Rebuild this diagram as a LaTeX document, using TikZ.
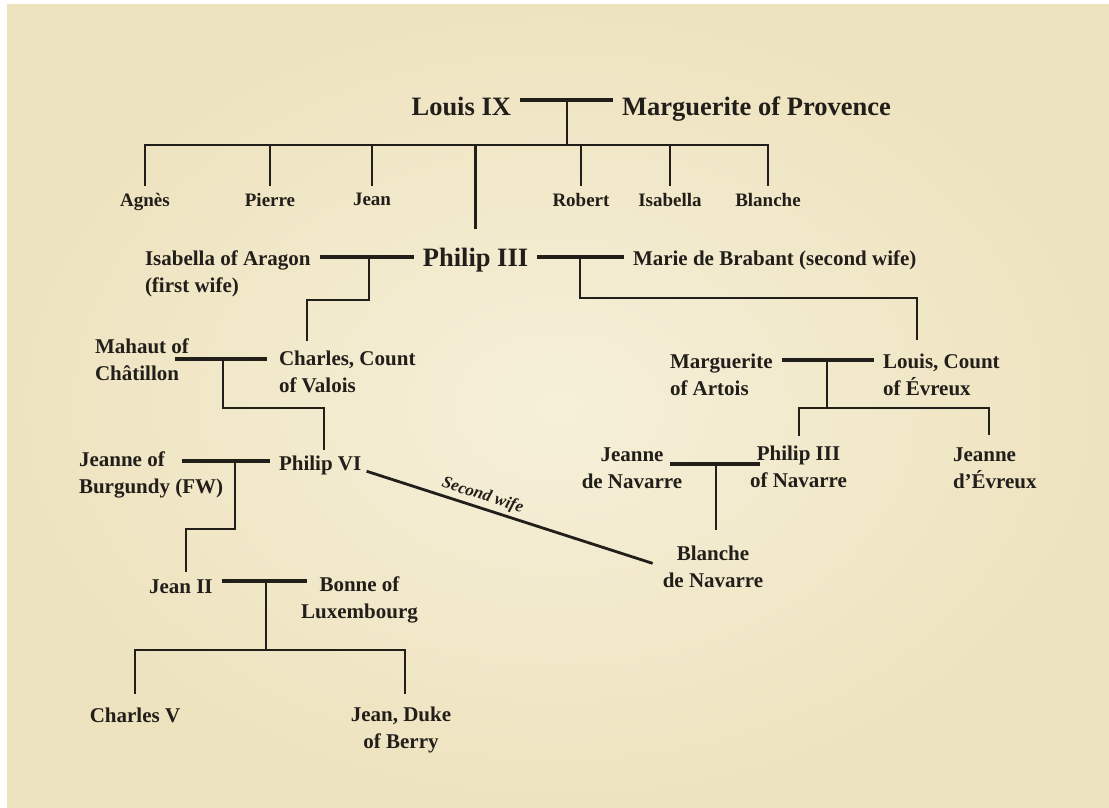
\documentclass[tikz,border=0pt]{standalone}
\usepackage{fontspec}
\setmainfont{Liberation Serif}
\usetikzlibrary{positioning,calc}
\definecolor{parch}{HTML}{F6F0D9}
\definecolor{parchedge}{HTML}{EEE3BF}
\definecolor{ink}{HTML}{221E19}
\tikzset{
  person/.style={inner sep=0pt, outer sep=0pt, text=ink, font=\bfseries\fontsize{21}{26.5}\selectfont},
  big/.style={person, font=\bfseries\fontsize{26.5}{30}\selectfont},
  kid/.style={person, font=\bfseries\fontsize{19}{22}\selectfont},
  wed/.style={draw=ink, line width=3.3pt, shorten <=9pt, shorten >=9pt},
  descent/.style={draw=ink, line width=2.8pt, line cap=rect},
  note/.style={text=ink, font=\bfseries\itshape\fontsize{17}{20}\selectfont, inner sep=1pt},
}

\begin{document}
\begin{tikzpicture}[x=1pt, y=-1pt]
  \useasboundingbox (0,0) rectangle (1109,808);
  \fill[white] (0,0) rectangle (1109,808);
  \shade[inner color=parch, outer color=parchedge] (7,5) rectangle (1109,808);
  % Louis IX and his children
  \node[big, anchor=north east] (louis) at (511,97) {Louis IX};
  \node[big, anchor=north west] (marg) at (622,97) {Marguerite of Provence};
  \node[kid, anchor=north] (agnes) at (145,193) {Agnès};
  \node[kid, anchor=north] (pierre) at (270,193) {Pierre};
  \node[kid, anchor=north] (jean) at (372,193) {Jean};
  \node[kid, anchor=north] (robert) at (581,193) {Robert};
  \node[kid, anchor=north] (isabella) at (670,193) {Isabella};
  \node[kid, anchor=north] (blanche1) at (768,193) {Blanche};
  % Philip III and his wives
  \node[big, anchor=north] (philip) at (475.5,248) {Philip III};
  \node[person, anchor=north west, align=left] (aragon) at (145,251) {Isabella of Aragon\\(first wife)};
  \node[person, anchor=north west] (marie) at (633,251) {Marie de Brabant (second wife)};
  \node[person, anchor=north west, align=left] (mahaut) at (95,339) {Mahaut of\\Châtillon};
  \node[person, anchor=north west, align=left] (charles) at (279,351) {Charles, Count\\of Valois};
  \node[person, anchor=north west, align=left] (artois) at (670,354) {Marguerite\\of Artois};
  \node[person, anchor=north west, align=left] (evreux) at (883,354) {Louis, Count\\of Évreux};
  \node[person, anchor=north west, align=left] (burgundy) at (79,452) {Jeanne of\\Burgundy (FW)};
  \node[person, anchor=north west] (pvi) at (279,456) {Philip VI};
  \node[person, anchor=north, align=center] (jnav) at (632,448) {Jeanne\\de Navarre};
  \node[person, anchor=north, align=center] (pnav) at (798.5,446) {Philip III\\of Navarre};
  \node[person, anchor=north west, align=left] (jevr) at (953,448) {Jeanne\\d'Évreux};
  \node[person, anchor=north, align=center] (blanche) at (713,546) {Blanche\\de Navarre};
  \node[person, anchor=north west] (jean2) at (149,580) {Jean II};
  \node[person, anchor=north, align=center] (bonne) at (359.5,577) {Bonne of\\Luxembourg};
  \node[person, anchor=north] (charles5) at (135,708) {Charles V};
  \node[person, anchor=north, align=center] (berry) at (401,707) {Jean, Duke\\of Berry};
  % junctions
  \coordinate (m1) at (567,100); \coordinate (kids1) at (567,145);
  \coordinate (m2) at (369,257); \coordinate (c2) at (307,300);
  \coordinate (m3) at (580,257); \coordinate (c3) at (917,298);
  \coordinate (m4) at (223,359); \coordinate (c4) at (324,408);
  \coordinate (m5) at (827,360); \coordinate (k5) at (827,408);
  \coordinate (k5l) at (799,408); \coordinate (k5r) at (989,408);
  \coordinate (m6) at (716,464);
  \coordinate (m7) at (235,461); \coordinate (c7) at (186,529);
  \coordinate (m8) at (266,581); \coordinate (k8) at (266,650); \coordinate (k8r) at (405,650);
  % marriages and descent
  \draw[wed] (louis.east |- m1) -- (marg.west |- m1);
  \draw[descent] (m1) -- (kids1);
  \draw[descent] (agnes |- kids1) -- (blanche1 |- kids1);
  \foreach \k in {agnes,pierre,jean,robert,isabella,blanche1}
    \draw[descent, shorten >=8pt] (\k |- kids1) -- (\k.north);
  \draw[descent, shorten >=20pt] (philip |- kids1) -- (philip.north);
  \draw[wed] (aragon.east |- m2) -- (philip.west |- m2);
  \draw[descent, shorten >=11pt] (m2) |- (c2) -- (c2 |- charles.north);
  \draw[wed] (philip.east |- m3) -- (marie.west |- m3);
  \draw[descent, shorten >=15pt] (m3) |- (c3) -- (c3 |- evreux.north);
  \draw[wed, shorten <=-14pt, shorten >=12pt] (mahaut.east |- m4) -- (charles.west |- m4);
  \draw[descent, shorten >=7pt] (m4) |- (c4) -- (c4 |- pvi.north);
  \draw[wed] (artois.east |- m5) -- (evreux.west |- m5);
  \draw[descent] (m5) -- (k5);
  \draw[descent] (k5l) -- (k5r);
  \draw[descent, shorten >=11pt] (k5l) -- (k5l |- pnav.north);
  \draw[descent, shorten >=14pt] (k5r) -- (k5r |- jevr.north);
  \draw[wed, shorten <=-12pt, shorten >=-10pt] (jnav.east |- m6) -- (pnav.west |- m6);
  \draw[descent, shorten >=17pt] (m6) -- (m6 |- blanche.north);
  \draw[wed, shorten <=-41pt] (burgundy.east |- m7) -- (pvi.west |- m7);
  \draw[descent, shorten >=9pt] (m7) |- (c7) -- (c7 |- jean2.north);
  \draw[descent, shorten <=7pt, shorten >=12pt] ([yshift=-4pt]pvi.east) -- (blanche.west)
    node[note, sloped, pos=0.39, above=2pt] {Second wife};
  \draw[wed, shorten >=-6pt] (jean2.east |- m8) -- (bonne.west |- m8);
  \draw[descent] (m8) -- (k8);
  \draw[descent] (charles5 |- k8) -- (k8r);
  \draw[descent, shorten >=15pt] (charles5 |- k8) -- (charles5.north);
  \draw[descent, shorten >=14pt] (k8r) -- (k8r |- berry.north);
\end{tikzpicture}
\end{document}
